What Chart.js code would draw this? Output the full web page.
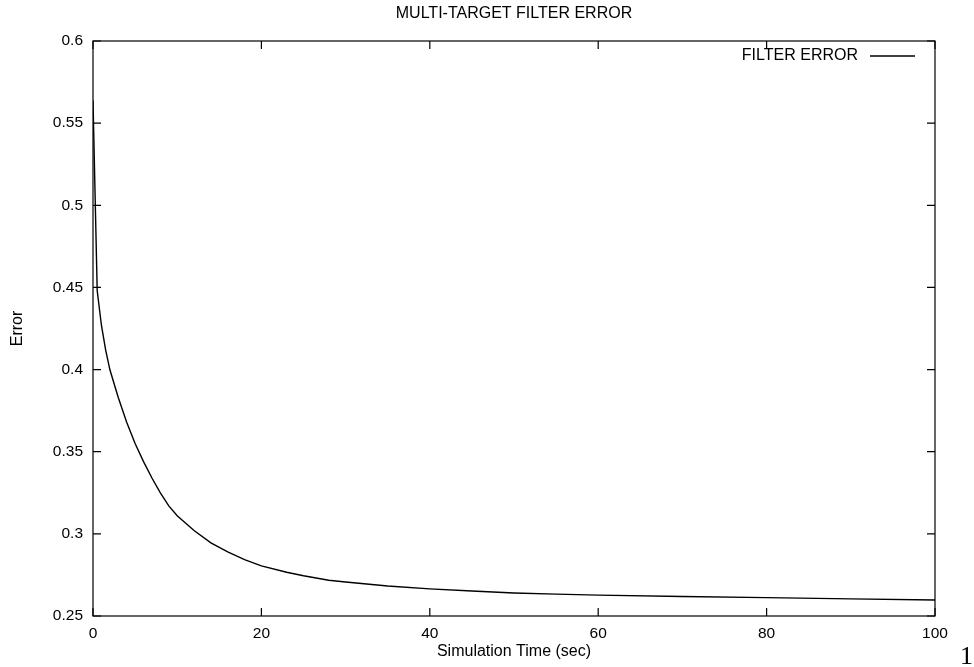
<!DOCTYPE html>
<html>
<head>
<meta charset="utf-8">
<script src="https://cdn.jsdelivr.net/npm/chart.js@4"></script>
<style>
  html, body { margin: 0; padding: 0; background: #fff; }
  #wrap { width: 974px; height: 667px; }
</style>
</head>
<body>
<div id="wrap"><canvas id="errChart" width="974" height="667"></canvas></div>
<script>
// time (sec) and filter error
const times = [0, 0.5, 1, 1.5, 2, 3, 4, 5, 6, 7, 8, 9, 10, 12, 14, 16, 18, 20, 23, 25, 28, 30, 35, 40, 45, 50, 55, 60, 70, 80, 90, 100];
const errors = [0.564, 0.448, 0.427, 0.412, 0.400, 0.383, 0.368, 0.355, 0.344, 0.334, 0.325, 0.317, 0.311, 0.302, 0.2945, 0.289, 0.2843, 0.2805, 0.2766, 0.2745, 0.2718, 0.2707, 0.2683, 0.2665, 0.2652, 0.2640, 0.2633, 0.2627, 0.2619, 0.2612, 0.2604, 0.2597];
const seriesLabel = 'FILTER ERROR';
const chartTitle = 'MULTI-TARGET FILTER ERROR';
const yTicks = [0.25, 0.3, 0.35, 0.4, 0.45, 0.5, 0.55, 0.6];
const xTicks = [0, 20, 40, 60, 80, 100];

const FONT = '"Liberation Sans", Arial, Helvetica, sans-serif';

// gnuplot-style frame: inward ticks mirrored on all four sides, title over plot, legend, page number
const framePlugin = {
  id: 'frame',
  afterDraw(chart) {
    const { ctx, chartArea: a, scales } = chart;
    ctx.save();
    ctx.strokeStyle = '#000';
    ctx.lineWidth = 1.2;
    ctx.strokeRect(a.left, a.top, a.right - a.left, a.bottom - a.top);
    const tl = 8;
    ctx.beginPath();
    scales.y.ticks.forEach(t => {
      const y = scales.y.getPixelForValue(t.value);
      ctx.moveTo(a.left, y); ctx.lineTo(a.left + tl, y);
      ctx.moveTo(a.right, y); ctx.lineTo(a.right - tl, y);
    });
    scales.x.ticks.forEach(t => {
      const x = scales.x.getPixelForValue(t.value);
      ctx.moveTo(x, a.bottom); ctx.lineTo(x, a.bottom - tl);
      ctx.moveTo(x, a.top); ctx.lineTo(x, a.top + tl);
    });
    ctx.stroke();

    ctx.fillStyle = '#000';
    ctx.textBaseline = 'middle';

    // title, centred over the plot area
    ctx.font = '16px ' + FONT;
    ctx.textAlign = 'center';
    ctx.fillText(chartTitle, (a.left + a.right) / 2, 14);

    // legend: text then line sample
    const ly = a.top + 15;
    ctx.textAlign = 'right';
    ctx.fillText(seriesLabel, a.right - 77, ly);
    ctx.beginPath();
    ctx.lineWidth = 1.3;
    ctx.moveTo(a.right - 65, ly);
    ctx.lineTo(a.right - 20, ly);
    ctx.stroke();

    // page number
    ctx.font = '26px "Liberation Serif", "DejaVu Serif", serif';
    ctx.textBaseline = 'alphabetic';
    ctx.fillText('1', 973, 664);
    ctx.restore();
  }
};

const ctx = document.getElementById('errChart').getContext('2d');
const errChart = new Chart(ctx, {
  type: 'line',
  data: {
    datasets: [{
      label: seriesLabel,
      data: times.map((t, i) => ({ x: t, y: errors[i] })),
      borderColor: '#000',
      borderWidth: 1.4,
      pointRadius: 0,
      tension: 0,
      fill: false
    }]
  },
  options: {
    responsive: false,
    animation: false,
    layout: { padding: { top: 41, right: 39, bottom: 0, left: 0 } },
    plugins: {
      legend: { display: false },
      tooltip: { enabled: false },
      title: { display: false }
    },
    scales: {
      x: {
        type: 'linear',
        min: 0,
        max: 100,
        afterFit(s) { s.height = 51; },
        afterBuildTicks(s) { s.ticks = xTicks.map(v => ({ value: v })); },
        grid: { display: false, drawTicks: false },
        border: { display: false },
        ticks: { color: '#000', padding: 8, maxRotation: 0, font: { family: FONT, size: 15.5 } },
        title: {
          display: true,
          text: 'Simulation Time (sec)',
          color: '#000',
          font: { family: FONT, size: 16 },
          padding: { top: 0, bottom: 6 }
        }
      },
      y: {
        type: 'linear',
        min: 0.25,
        max: 0.6,
        afterFit(s) { s.width = 93; },
        afterBuildTicks(s) { s.ticks = yTicks.map(v => ({ value: v })); },
        grid: { display: false, drawTicks: false },
        border: { display: false },
        ticks: {
          color: '#000',
          padding: 10,
          font: { family: FONT, size: 15.5 },
          callback: v => String(Number(v.toFixed(2)))
        },
        title: {
          display: true,
          text: 'Error',
          color: '#000',
          font: { family: FONT, size: 16 },
          padding: { top: 8, bottom: 0 }
        }
      }
    }
  },
  plugins: [framePlugin]
});
</script>
</body>
</html>
